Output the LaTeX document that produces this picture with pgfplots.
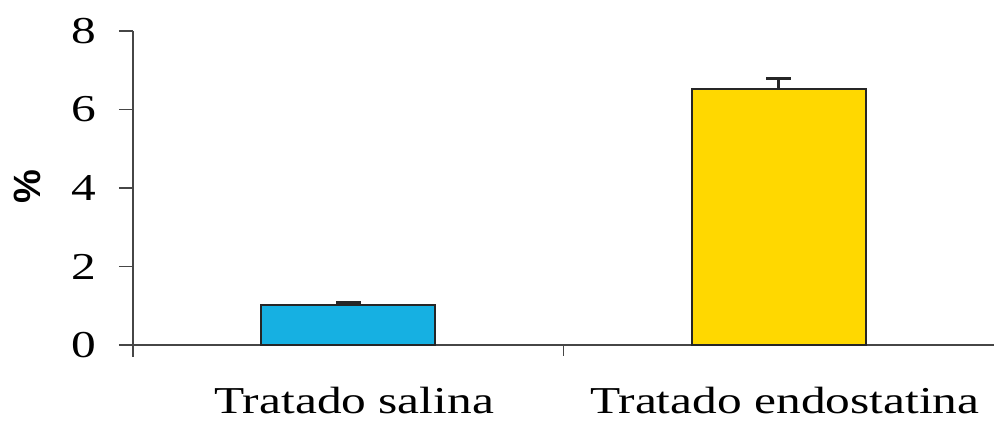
\documentclass[border=0pt]{standalone}
\usepackage{fontspec}
\setmainfont{Liberation Serif}
\newfontfamily\serifwide[FakeStretch=1.3]{Liberation Serif}
\newfontfamily\sansbold{Liberation Sans}
\usepackage{pgfplots}
\pgfplotsset{compat=1.18}
\definecolor{barblue}{RGB}{22,176,226}
\definecolor{baryellow}{RGB}{255,216,0}
\definecolor{axisgray}{RGB}{70,70,70}
\begin{document}
\begin{tikzpicture}
\begin{axis}[
  at={(0,0)}, anchor=south west,
  scale only axis,
  width=430.5pt, height=157pt,
  xmin=-0.5, xmax=1.5,
  ymin=0, ymax=8,
  axis x line=bottom, axis y line=left,
  axis line style={-, axisgray, line width=0.6pt},
  ytick={0,2,4,6,8},
  xtick={0,1},
  xticklabels={Tratado salina, Tratado endostatina},
  tick align=outside,
  y tick style={axisgray, line width=0.6pt},
  x tick style={draw=none},
  major tick length=7pt,
  /pgf/number format/assume math mode=true,
  yticklabel style={font=\serifwide\fontsize{19}{21}\selectfont, anchor=east, xshift=-8pt},
  xticklabel style={font=\serifwide\fontsize{19}{22}\selectfont, anchor=base, inner sep=0pt, yshift=-27.5pt, xshift=3pt},
  extra x ticks={0.5},
  extra x tick labels={},
  extra x tick style={x tick style={draw=axisgray, line width=0.6pt}, major tick length=5.5pt},
  clip=false,
]
\addplot[ybar, bar width=87pt, bar shift=0pt, fill=barblue, draw=black!85, line width=1pt,
  error bars/.cd, y dir=plus, y explicit, error mark=|,
  error bar style={line width=1.5pt, black!85}, error mark options={line width=1.5pt, mark size=6.25pt, black!85}]
  coordinates {(0,1.02) +- (0,0.06)};
\addplot[ybar, bar width=87pt, bar shift=0pt, fill=baryellow, draw=black!85, line width=1pt,
  error bars/.cd, y dir=plus, y explicit, error mark=|,
  error bar style={line width=1.5pt, black!85}, error mark options={line width=1.5pt, mark size=6.25pt, black!85}]
  coordinates {(1,6.51) +- (0,0.28)};
\draw[axisgray, line width=0.6pt] (axis cs:-0.5,0) -- ([yshift=-6pt]axis cs:-0.5,0);
\end{axis}
\node[rotate=90, font=\sansbold\bfseries\fontsize{19}{20}\selectfont] at (-53pt,79pt) {\%};
\pgfresetboundingbox
\path[use as bounding box] (-66.5pt,-38pt) rectangle (430.5pt,172.5pt);
\end{tikzpicture}
\end{document}
